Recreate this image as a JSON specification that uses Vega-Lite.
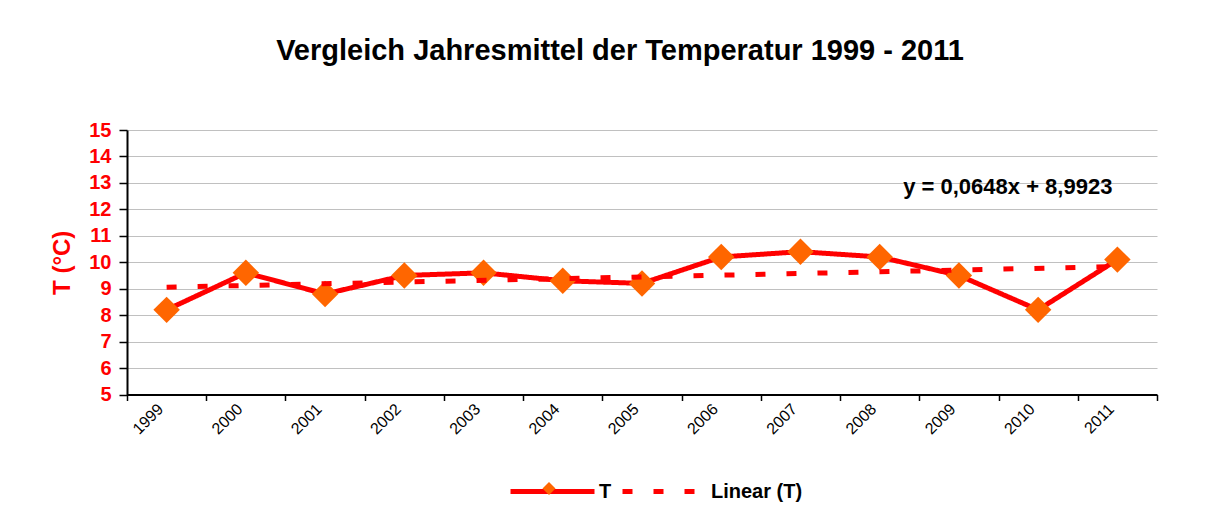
{
  "$schema": "https://vega.github.io/schema/vega-lite/v6.json",
  "width": 1030,
  "height": 264.5,
  "autosize": {"type": "none"},
  "padding": {"left": 127, "top": 130, "right": 74, "bottom": 127},
  "background": "white",
  "title": {
    "text": "Vergleich Jahresmittel der Temperatur 1999 - 2011",
    "font": "Liberation Sans",
    "fontSize": 29,
    "fontWeight": "bold",
    "color": "black",
    "anchor": "middle",
    "frame": "group",
    "dx": -22,
    "baseline": "alphabetic",
    "offset": 31
  },
  "data": {
    "values": [
      {"year": "1999", "value": 8.2, "series": "T"},
      {"year": "2000", "value": 9.6, "series": "T"},
      {"year": "2001", "value": 8.8, "series": "T"},
      {"year": "2002", "value": 9.5, "series": "T"},
      {"year": "2003", "value": 9.6, "series": "T"},
      {"year": "2004", "value": 9.3, "series": "T"},
      {"year": "2005", "value": 9.2, "series": "T"},
      {"year": "2006", "value": 10.2, "series": "T"},
      {"year": "2007", "value": 10.4, "series": "T"},
      {"year": "2008", "value": 10.2, "series": "T"},
      {"year": "2009", "value": 9.5, "series": "T"},
      {"year": "2010", "value": 8.2, "series": "T"},
      {"year": "2011", "value": 10.1, "series": "T"},
      {"year": "1999", "value": 9.057, "series": "Linear (T)"},
      {"year": "2011", "value": 9.835, "series": "Linear (T)"}
    ]
  },
  "encoding": {
    "x": {
      "field": "year",
      "type": "ordinal",
      "scale": {"paddingInner": 0, "paddingOuter": 0},
      "axis": {
        "title": null,
        "labelAngle": -45,
        "labelAlign": "right",
        "labelBaseline": "top",
        "labelFont": "Liberation Sans",
        "labelFontSize": 16,
        "labelColor": "black",
        "labelOffset": -12,
        "labelPadding": 0,
        "tickBand": "extent",
        "tickSize": 6,
        "tickColor": "black",
        "tickWidth": 1.5,
        "domainColor": "black",
        "domainWidth": 2,
        "grid": false
      }
    },
    "y": {
      "field": "value",
      "type": "quantitative",
      "scale": {"domain": [5, 15], "nice": false, "zero": false},
      "axis": {
        "title": "T (°C)",
        "titleFont": "Liberation Sans",
        "titleFontSize": 24,
        "titleFontWeight": "bold",
        "titleColor": "#FF0000",
        "titlePadding": 14,
        "values": [5, 6, 7, 8, 9, 10, 11, 12, 13, 14, 15],
        "labelFont": "Liberation Sans",
        "labelFontSize": 20,
        "labelFontWeight": "bold",
        "labelColor": "#FF0000",
        "labelPadding": 8,
        "tickSize": 8,
        "tickColor": "black",
        "tickWidth": 1.5,
        "domainColor": "black",
        "domainWidth": 2,
        "grid": true,
        "gridColor": "#c0c0c0",
        "gridWidth": 1
      }
    }
  },
  "layer": [
    {
      "transform": [{"filter": "datum.series === 'T'"}],
      "mark": {"type": "line", "strokeWidth": 5},
      "encoding": {
        "color": {
          "field": "series",
          "type": "nominal",
          "scale": {"domain": ["T", "Linear (T)"], "range": ["#FF0000", "#FF0000"]},
          "legend": {
            "title": null,
            "orient": "none",
            "direction": "horizontal",
            "legendX": 381,
            "legendY": 317,
            "padding": 0,
            "symbolSize": 7056,
            "symbolStrokeWidth": 5,
            "symbolType": "stroke",
            "labelFont": "Liberation Sans",
            "labelFontSize": 20,
            "labelFontWeight": "bold",
            "labelColor": "black",
            "labelOffset": 2,
            "columnPadding": 0,
            "gridAlign": "none"
          }
        },
        "strokeDash": {
          "field": "series",
          "type": "nominal",
          "scale": {"domain": ["T", "Linear (T)"], "range": [[1, 0], [10, 21]]},
          "legend": {
            "title": null,
            "orient": "none",
            "direction": "horizontal",
            "legendX": 381,
            "legendY": 317,
            "padding": 0,
            "symbolSize": 7056,
            "symbolStrokeWidth": 5,
            "symbolType": "stroke",
            "labelFont": "Liberation Sans",
            "labelFontSize": 20,
            "labelFontWeight": "bold",
            "labelColor": "black",
            "labelOffset": 2,
            "columnPadding": 0,
            "gridAlign": "none"
          }
        }
      }
    },
    {
      "transform": [{"filter": "datum.series === 'T'"}],
      "mark": {"type": "point", "filled": true, "opacity": 1, "color": "#FF6600", "size": 700},
      "encoding": {
        "shape": {
          "datum": "T",
          "type": "nominal",
          "scale": {"domain": ["T"], "range": ["diamond"]},
          "legend": {
            "title": null,
            "orient": "none",
            "legendX": 415.5,
            "legendY": 352,
            "padding": 0,
            "symbolSize": 169,
            "symbolFillColor": "#FF6600",
            "symbolStrokeColor": "#FF6600",
            "symbolStrokeWidth": 0,
            "labelExpr": "''",
            "labelFontSize": 1,
            "labelOffset": 0
          }
        }
      }
    },
    {
      "transform": [{"filter": "datum.series === 'Linear (T)'"}],
      "mark": {"type": "line", "strokeWidth": 5},
      "encoding": {
        "color": {"field": "series", "type": "nominal"},
        "strokeDash": {"field": "series", "type": "nominal"}
      }
    },
    {
      "transform": [{"filter": "datum.series === 'Linear (T)' && datum.year === '2011'"}],
      "mark": {
        "type": "text",
        "text": "y = 0,0648x + 8,9923",
        "font": "Liberation Sans",
        "fontSize": 22,
        "fontWeight": "bold",
        "color": "black",
        "align": "right",
        "baseline": "middle",
        "dx": -5
      },
      "encoding": {
        "y": {"datum": 12.84, "type": "quantitative"}
      }
    }
  ],
  "config": {
    "view": {"stroke": null}
  }
}
